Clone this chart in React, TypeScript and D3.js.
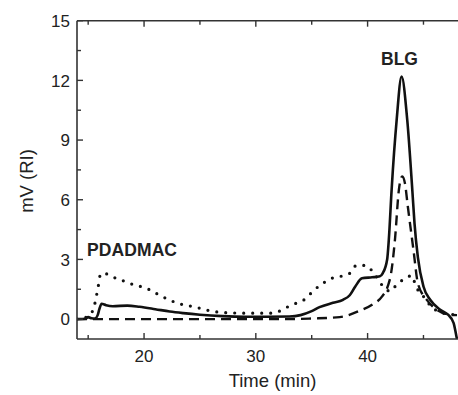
import React from "react";
import * as d3 from "d3";

const solidT = [14, 14.8, 15.0, 15.3, 15.6, 15.85, 16.0, 16.2, 16.6, 17.2, 18.5, 19.6, 21, 22.3, 23.5, 25, 27, 29, 31, 33, 34, 35, 35.7, 36.9, 37.8, 38.4, 38.9, 39.5, 40.4, 41.1, 41.35, 41.75, 41.9, 42.15, 42.6, 43.04, 43.55, 44.0, 44.2, 44.5, 45.0, 45.6, 46.5, 47.2, 47.7, 47.95, 48];
const solidV = [0, 0.02, 0.1, 0.04, 0.03, 0.2, 0.5, 0.77, 0.7, 0.65, 0.68, 0.62, 0.5, 0.38, 0.3, 0.22, 0.15, 0.12, 0.12, 0.13, 0.2, 0.4, 0.6, 0.82, 0.97, 1.2, 1.64, 2.05, 2.1, 2.15, 2.3, 3.0, 4.0, 6.5, 10.0, 12.19, 10.0, 6.5, 4.8, 3.1, 1.64, 0.97, 0.47, 0.22, -0.2, -0.87, -1.0];

const dashT = [14, 33, 35, 37.5, 39.3, 40.4, 41.3, 41.8, 42.1, 42.45, 42.8, 43.1, 43.35, 43.6, 44.1, 44.5, 45.3, 46.2, 47.4, 48];
const dashV = [0, 0, 0.03, 0.1, 0.42, 0.72, 1.14, 1.64, 2.3, 4.0, 6.5, 7.17, 6.8, 5.66, 3.5, 1.8, 0.97, 0.47, 0.22, 0.2];

const dotT = [14, 14.5, 15.0, 15.5, 15.75, 15.95, 16.1, 16.5, 16.95, 17.8, 18.7, 20.4, 21.4, 23.0, 24.6, 25.9, 27, 29, 31.3, 32.2, 32.8, 33.7, 34.4, 35.1, 36.6, 38.4, 39.0, 39.8, 40.7, 41.5, 42.0, 42.7, 43.6, 43.9, 44.4, 45.0, 45.7, 46.6, 47.7, 48];
const dotV = [0, 0.05, 0.13, 0.57, 1.2, 1.8, 2.27, 2.3, 2.17, 2.0, 1.8, 1.5, 1.2, 0.8, 0.6, 0.42, 0.33, 0.3, 0.3, 0.42, 0.6, 0.82, 1.0, 1.4, 2.0, 2.3, 2.7, 2.7, 2.2, 1.57, 1.4, 1.8, 2.1, 2.2, 1.56, 1.14, 0.63, 0.33, 0.22, 0.2];

const xTicks = [20, 30, 40];
const xMinor = [15, 25, 35, 45];
const yTicks = [0, 3, 6, 9, 12, 15];
const yMinor = [1.5, 4.5, 7.5, 10.5, 13.5];

const W = 458, H = 395;
const L = 77, R = 457, T = 20.7, B = 339;
const FONT = "'Liberation Sans', Arial, Helvetica, sans-serif";
const AX = "#333";

export default function App() {
  const x = d3.scaleLinear().domain([14, 48]).range([L, R]);
  const y = d3.scaleLinear().domain([-1, 15]).range([B, T]);
  const mk = (ts: number[], vs: number[]) =>
    d3.line<number>().x((_, i) => x(ts[i])).y((v) => y(v)).curve(d3.curveMonotoneX)(vs) || "";

  return (
    <svg width={W} height={H} style={{ position: "absolute", left: 0, top: 0, background: "#fff" }}>
      <defs>
        <clipPath id="plot">
          <rect x={L} y={T} width={R - L + 2} height={B - T} />
        </clipPath>
      </defs>
      <g clipPath="url(#plot)" fill="none">
        <path d={mk(dotT, dotV)} stroke="#111" strokeWidth={3.2} strokeLinecap="round" strokeDasharray="0 9" />
        <path d={mk(dashT, dashV)} stroke="#111" strokeWidth={2.4} strokeDasharray="10 6" />
        <path d={mk(solidT, solidV)} stroke="#111" strokeWidth={2.6} strokeLinejoin="round" />
      </g>
      {/* axes */}
      <line x1={L} y1={T} x2={L} y2={B} stroke={AX} strokeWidth={1.6} />
      <line x1={L} y1={B} x2={R + 1} y2={B} stroke={AX} strokeWidth={1.6} />
      <line x1={L} y1={T} x2={R + 1} y2={T} stroke={AX} strokeWidth={1.6} />
      {yTicks.map((t) => (
        <g key={"y" + t}>
          <line x1={L} x2={L + 6} y1={y(t)} y2={y(t)} stroke={AX} strokeWidth={1.4} />
          <text x={L - 7} y={y(t)} dy="0.36em" textAnchor="end" fontFamily={FONT} fontSize={17} fill="#222">{t}</text>
        </g>
      ))}
      {yMinor.map((t) => (
        <line key={"ym" + t} x1={L} x2={L + 4} y1={y(t)} y2={y(t)} stroke={AX} strokeWidth={1.4} />
      ))}
      {xTicks.map((t) => (
        <g key={"x" + t}>
          <line x1={x(t)} x2={x(t)} y1={B} y2={B - 6} stroke={AX} strokeWidth={1.4} />
          <line x1={x(t)} x2={x(t)} y1={T} y2={T + 6} stroke={AX} strokeWidth={1.4} />
          <text x={x(t)} y={361.5} textAnchor="middle" fontFamily={FONT} fontSize={17} fill="#222">{t}</text>
        </g>
      ))}
      {xMinor.map((t) => (
        <g key={"xm" + t}>
          <line x1={x(t)} x2={x(t)} y1={B} y2={B - 4} stroke={AX} strokeWidth={1.4} />
          <line x1={x(t)} x2={x(t)} y1={T} y2={T + 4} stroke={AX} strokeWidth={1.4} />
        </g>
      ))}
      <text x={272.5} y={387} textAnchor="middle" fontFamily={FONT} fontSize={18.5} fill="#222">Time (min)</text>
      <text transform={`translate(33,181) rotate(-90)`} textAnchor="middle" fontFamily={FONT} fontSize={18.5} fill="#222">mV (RI)</text>
      <text x={399.5} y={65} textAnchor="middle" fontFamily={FONT} fontSize={17.5} fontWeight="bold" fill="#222">BLG</text>
      <text x={87} y={256} fontFamily={FONT} fontSize={17.5} fontWeight="bold" fill="#222" textLength={90}>PDADMAC</text>
    </svg>
  );
}
